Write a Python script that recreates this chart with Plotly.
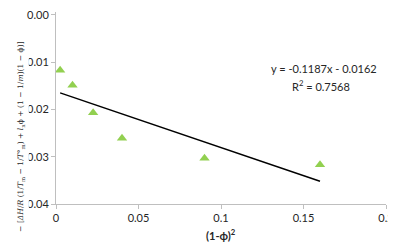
import plotly.graph_objects as go

# data
x_vals = [0.0025, 0.01, 0.0225, 0.04, 0.09, 0.16]
y_vals = [-0.0117, -0.0149, -0.0207, -0.0261, -0.0303, -0.0317]
slope = -0.1187
intercept = -0.0162
r2 = 0.7568
x_ticks = [0, 0.05, 0.1, 0.15, 0.2]
x_tick_labels = ["0", "0.05", "0.1", "0.15", "0.2"]
y_ticks = [0, -0.01, -0.02, -0.03, -0.04]
y_tick_labels = ["0.00", "-0.01", "-0.02", "-0.03", "-0.04"]

fit_x = [min(x_vals), max(x_vals)]
fit_y = [slope * v + intercept for v in fit_x]

FONT = "Lato, 'Open Sans', sans-serif"
fig = go.Figure()
fig.add_trace(go.Scatter(x=x_vals, y=y_vals, mode="markers",
                         marker=dict(symbol="triangle-up", size=9, color="#92d050"),
                         showlegend=False))
fig.add_trace(go.Scatter(x=fit_x, y=fit_y, mode="lines",
                         line=dict(color="black", width=1.5), showlegend=False))

fig.update_layout(
    width=388, height=235,
    margin=dict(l=48, r=10, t=0, b=39),
    paper_bgcolor="white", plot_bgcolor="white",
    font=dict(family=FONT, size=11, color="#262626"),
    xaxis=dict(range=[0, 0.2], tickvals=x_ticks, ticktext=x_tick_labels,
               showgrid=False, zeroline=False, showline=True, linecolor="#bfbfbf",
               linewidth=1, ticks="outside", ticklen=4, tickcolor="#bfbfbf",
               ticklabeloverflow="allow"),
    yaxis=dict(range=[-0.04, 0.0006], tickvals=y_ticks, ticktext=y_tick_labels,
               showgrid=False, zeroline=False, showline=True, linecolor="#bfbfbf",
               linewidth=1, ticks="outside", ticklen=4, tickcolor="#bfbfbf",
               ticklabeloverflow="allow"),
)

fig.add_annotation(x=0.5, y=-0.158, xref="paper", yref="paper", showarrow=False,
                   text="<b>(1-ϕ)<sup>2</sup></b>", font=dict(size=11, color="#262626"),
                   yanchor="middle")
fig.add_annotation(x=0.1625, y=-0.0113, xref="x", yref="y", showarrow=False,
                   text=f"y = {slope:.4f}x - {abs(intercept):.4f}",
                   font=dict(size=11, color="#262626"), xanchor="center")
fig.add_annotation(x=0.1605, y=-0.0149, xref="x", yref="y", showarrow=False,
                   text=f"R<sup>2</sup> = {r2:.4f}", font=dict(size=11, color="#262626"),
                   xanchor="center")
ytitle = ("− [<i>ΔH</i>/<i>R</i> (1/<i>T</i><sub>m</sub> − 1/<i>T</i>°<sub>m</sub>) + "
          "<i>l</i><sub>n</sub>ϕ + (1 − 1/<i>m</i>)(1 − ϕ)]")
fig.add_annotation(x=-0.13, y=0.35, xref="paper", yref="paper", showarrow=False,
                   text=ytitle, textangle=-90, bgcolor="white", borderpad=2,
                   font=dict(family="'DejaVu Serif', serif", size=7.6, color="#262626"))

fig.write_html("out.html")
